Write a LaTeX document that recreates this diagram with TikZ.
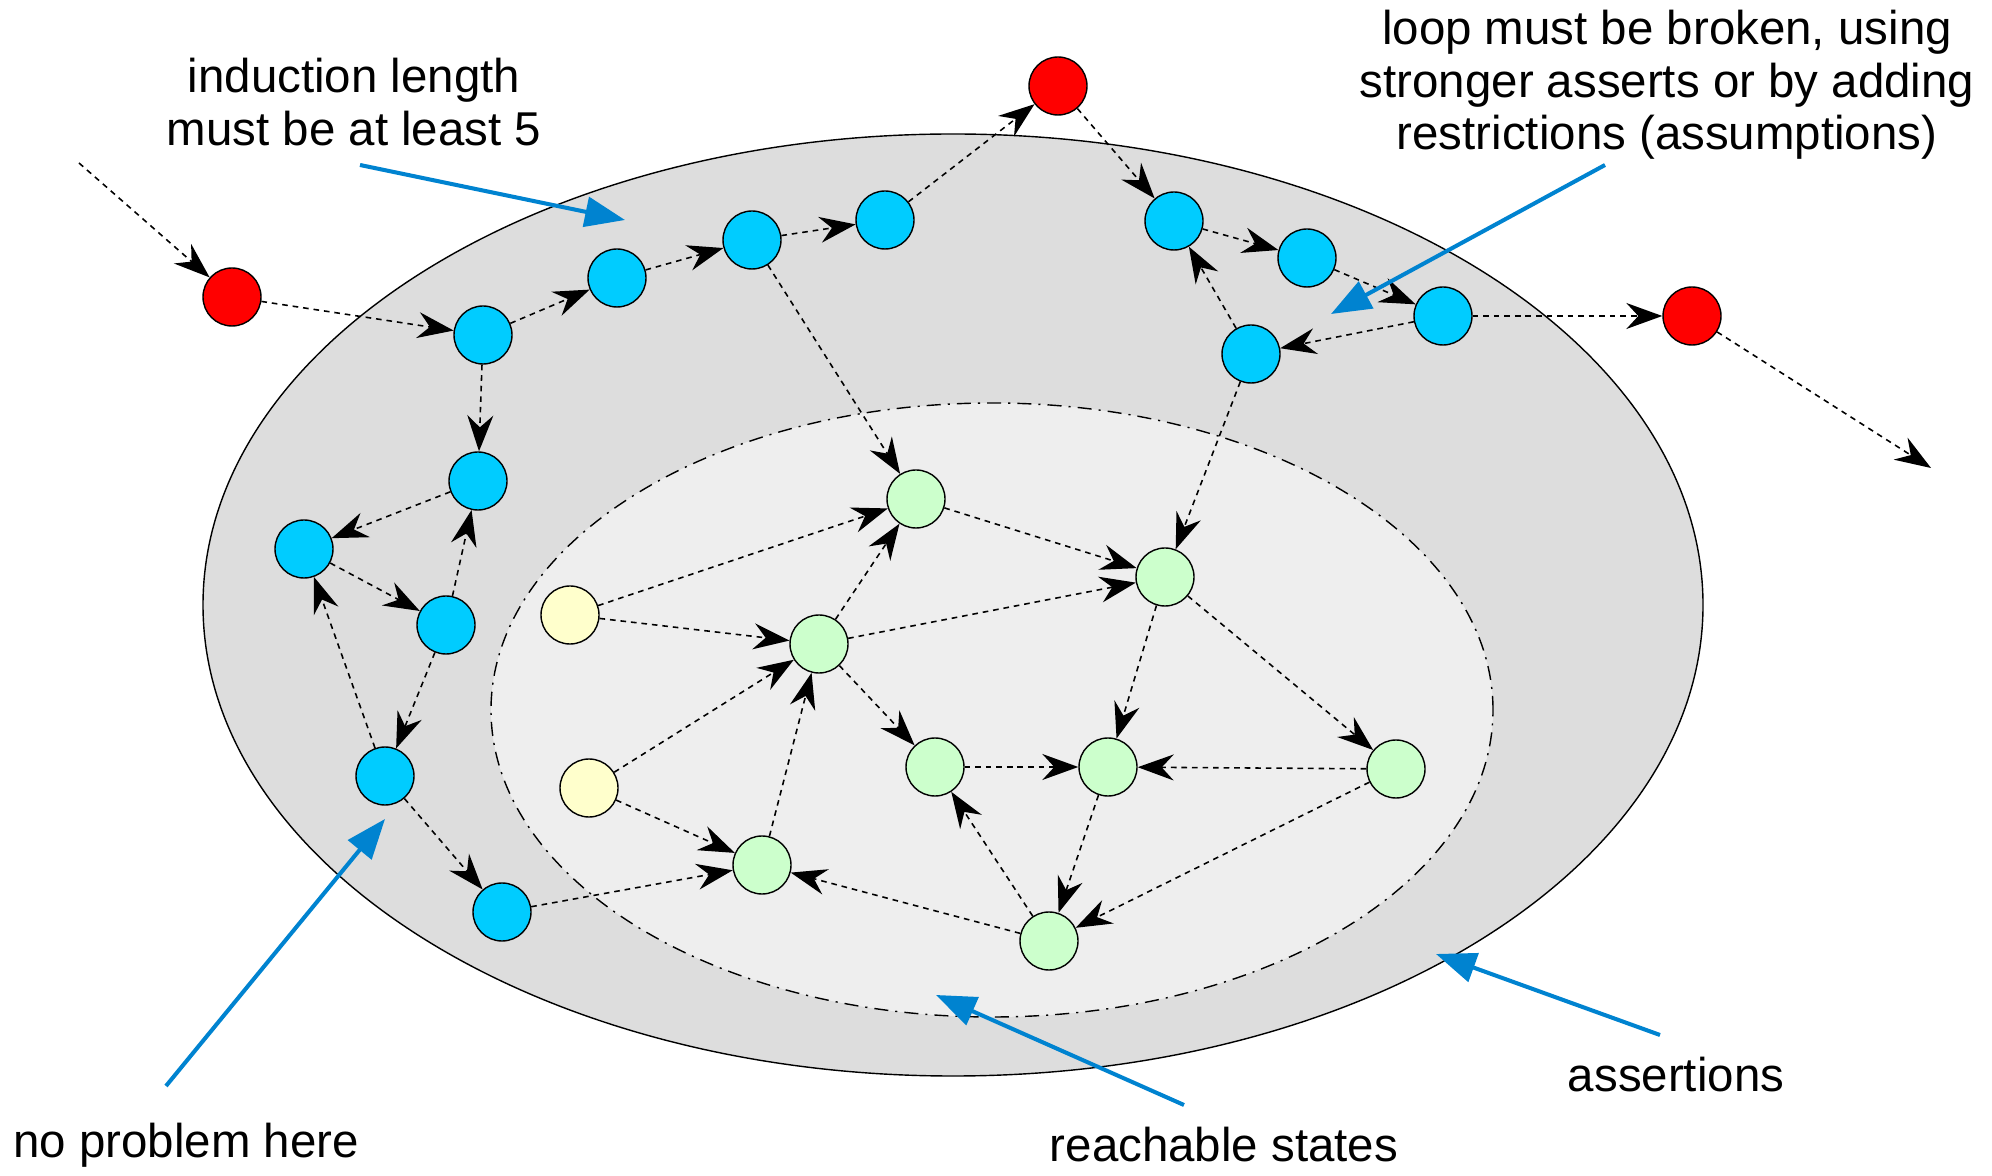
\documentclass[tikz,border=0pt]{standalone}
\usepackage{fontspec}
\setmainfont{Liberation Sans}
\usepackage{xcolor}
\definecolor{assertbg}{HTML}{DDDDDD}
\definecolor{reachbg}{HTML}{EEEEEE}
\definecolor{badfill}{HTML}{FF0000}
\definecolor{loosefill}{HTML}{00CCFF}
\definecolor{reachfill}{HTML}{CCFFCC}
\definecolor{initfill}{HTML}{FFFFCC}
\definecolor{notecol}{HTML}{0083D0}
\usepackage{tikz}
\usetikzlibrary{positioning, arrows.meta}

\begin{document}
\begin{tikzpicture}[
  state/.style={circle, draw, line width=0.4pt, minimum size=5.8mm, inner sep=0pt},
  bad/.style={state, fill=badfill},
  loose/.style={state, fill=loosefill},
  reach/.style={state, fill=reachfill},
  init/.style={state, fill=initfill},
  trans/.style={line width=0.45pt, dash pattern=on 1.6pt off 1.4pt,
               -{Stealth[length=3.6mm, width=2.6mm, inset=1.2mm]}},
  note/.style={font=\fontsize{13.5}{15}\selectfont, align=center},
  pointer/.style={notecol, line width=1.15pt, -{Triangle[length=4mm, width=3mm]}},
]
\useasboundingbox (0,0) rectangle (19.92,-11.76);

% Assertions and reachable states
\draw[fill=assertbg, line width=0.4pt] (9.53,-6.05) ellipse [x radius=7.50, y radius=4.71];
\draw[fill=reachbg, line width=0.4pt, dash pattern=on 4pt off 2pt on 0.6pt off 2pt]
  (9.92,-7.10) ellipse [x radius=5.01, y radius=3.07];

% Bad states
\node[bad] (r1) at (2.32, -2.97) {};
\node[bad] (r2) at (10.58, -0.86) {};
\node[bad] (r3) at (16.92, -3.16) {};

% States outside the reachable set
\node[loose] (b1) at (4.83, -3.35) {};
\node[loose] (b2) at (6.17, -2.78) {};
\node[loose] (b3) at (7.52, -2.40) {};
\node[loose] (b4) at (8.85, -2.20) {};
\node[loose] (b5) at (4.78, -4.81) {};
\node[loose] (b6) at (3.04, -5.49) {};
\node[loose] (b7) at (4.46, -6.25) {};
\node[loose] (b8) at (3.85, -7.76) {};
\node[loose] (b9) at (5.02, -9.12) {};
\node[loose] (b10) at (11.74, -2.21) {};
\node[loose] (b11) at (13.07, -2.58) {};
\node[loose] (b12) at (14.43, -3.16) {};
\node[loose] (b13) at (12.51, -3.54) {};

% Initial states
\node[init] (y1) at (5.70, -6.15) {};
\node[init] (y2) at (5.89, -7.88) {};

% Reachable states
\node[reach] (g1) at (9.16, -4.99) {};
\node[reach] (g2) at (11.65, -5.77) {};
\node[reach] (g3) at (8.19, -6.44) {};
\node[reach] (g4) at (9.35, -7.67) {};
\node[reach] (g5) at (11.08, -7.67) {};
\node[reach] (g6) at (13.96, -7.69) {};
\node[reach] (g7) at (7.62, -8.65) {};
\node[reach] (g8) at (10.49, -9.41) {};

\coordinate (entry) at (0.79, -1.63);
\coordinate (exit) at (19.31, -4.68);

% Path through the bad states
\draw[trans] (entry) -- (r1);
\draw[trans] (r1) -- (b1);
\draw[trans] (b1) -- (b2);
\draw[trans] (b2) -- (b3);
\draw[trans] (b3) -- (b4);
\draw[trans] (b4) -- (r2);
\draw[trans] (r2) -- (b10);
\draw[trans] (b10) -- (b11);
\draw[trans] (b11) -- (b12);
\draw[trans] (b12) -- (r3);
\draw[trans] (r3) -- (exit);
\draw[trans] (b12) -- (b13);
\draw[trans] (b13) -- (b10);
\draw[trans] (b13) -- (g2);
\draw[trans] (b3) -- (g1);

% Left loop
\draw[trans] (b1) -- (b5);
\draw[trans] (b5) -- (b6);
\draw[trans] (b6) -- (b7);
\draw[trans] (b7) -- (b5);
\draw[trans] (b7) -- (b8);
\draw[trans] (b8) -- (b6);
\draw[trans] (b8) -- (b9);
\draw[trans] (b9) -- (g7);

% Inside the reachable set
\draw[trans] (y1) -- (g1);
\draw[trans] (y1) -- (g3);
\draw[trans] (y2) -- (g3);
\draw[trans] (y2) -- (g7);
\draw[trans] (g3) -- (g1);
\draw[trans] (g3) -- (g2);
\draw[trans] (g1) -- (g2);
\draw[trans] (g3) -- (g4);
\draw[trans] (g7) -- (g3);
\draw[trans] (g4) -- (g5);
\draw[trans] (g2) -- (g5);
\draw[trans] (g2) -- (g6);
\draw[trans] (g6) -- (g5);
\draw[trans] (g6) -- (g8);
\draw[trans] (g5) -- (g8);
\draw[trans] (g8) -- (g4);
\draw[trans] (g8) -- (g7);

% Notes
\node[note] (nind) at (3.54, -1.02) {induction length\\must be at least 5};
\node[note] (nloop) at (16.67, -0.85) {loop must be broken, using\\stronger asserts or by adding\\restrictions (assumptions)};
\node[note] (nok) at (1.86, -11.45) {no problem here};
\node[note] (nreach) at (12.24, -11.45) {reachable states};
\node[note] (nassert) at (16.76, -10.75) {assertions};

\coordinate (pind) at (6.25, -2.20);
\coordinate (ploop) at (13.31, -3.14);
\coordinate (pok) at (3.85, -8.19);
\coordinate (preach) at (9.36, -9.95);
\coordinate (passert) at (14.36, -9.54);

\draw[pointer] (3.60, -1.65) -- (pind);
\draw[pointer] (16.05, -1.65) -- (ploop);
\draw[pointer] (1.66, -10.86) -- (pok);
\draw[pointer] (11.84, -11.05) -- (preach);
\draw[pointer] (16.60, -10.35) -- (passert);
\end{tikzpicture}
\end{document}
